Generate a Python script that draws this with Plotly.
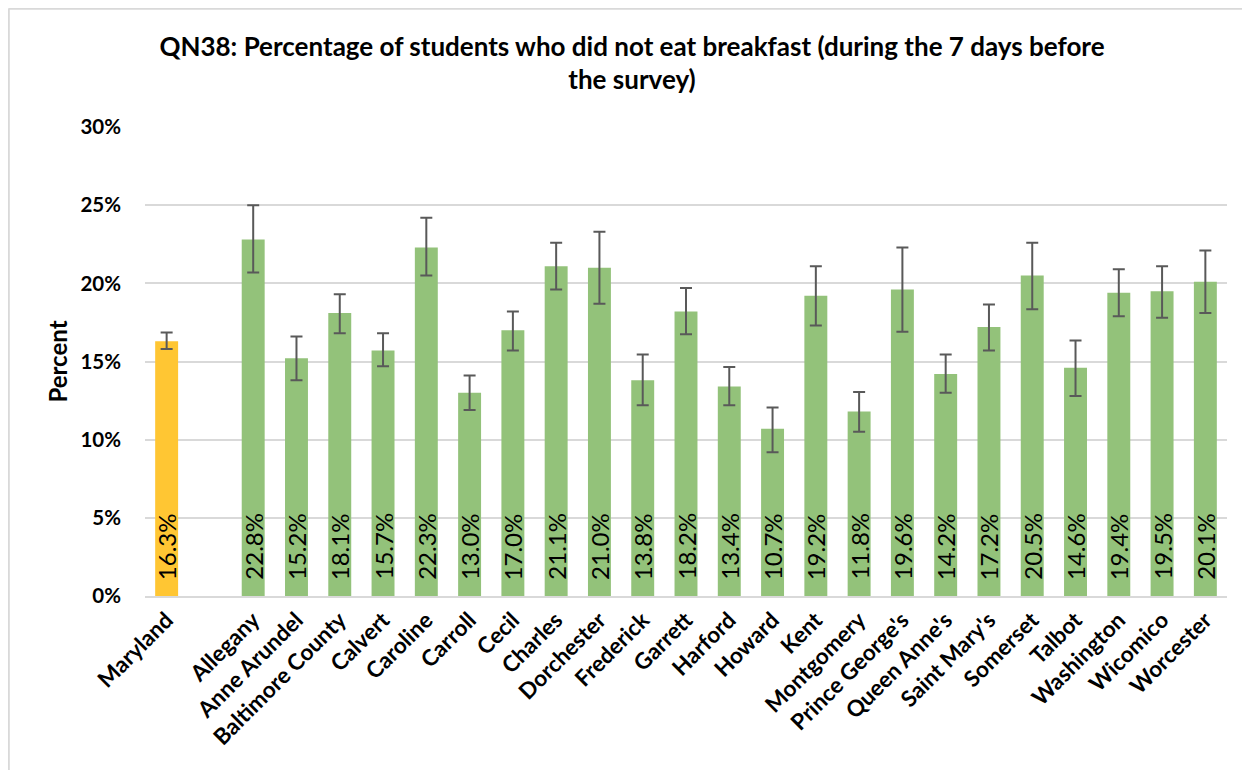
import plotly.graph_objects as go

# ---- data ----
state_name = "Maryland"
state_value = 16.3
state_lower = 15.8
state_upper = 16.85

counties = ["Allegany", "Anne Arundel", "Baltimore County", "Calvert", "Caroline",
            "Carroll", "Cecil", "Charles", "Dorchester", "Frederick", "Garrett",
            "Harford", "Howard", "Kent", "Montgomery", "Prince George's",
            "Queen Anne's", "Saint Mary's", "Somerset", "Talbot", "Washington",
            "Wicomico", "Worcester"]
county_values = [22.8, 15.2, 18.1, 15.7, 22.3, 13.0, 17.0, 21.1, 21.0, 13.8, 18.2,
                 13.4, 10.7, 19.2, 11.8, 19.6, 14.2, 17.2, 20.5, 14.6, 19.4, 19.5, 20.1]
county_lower = [20.7, 13.8, 16.8, 14.7, 20.5, 11.9, 15.7, 19.6, 18.7, 12.2, 16.75,
                12.2, 9.2, 17.3, 10.5, 16.9, 13.0, 15.7, 18.35, 12.8, 17.9, 17.8, 18.1]
county_upper = [25.0, 16.6, 19.3, 16.8, 24.2, 14.1, 18.2, 22.6, 23.3, 15.45, 19.7,
                14.65, 12.05, 21.1, 13.05, 22.3, 15.45, 18.65, 22.6, 16.35, 20.9, 21.1, 22.1]

y_tick_vals = [0, 5, 10, 15, 20, 25, 30]
y_tick_text = ["0%", "5%", "10%", "15%", "20%", "25%", "30%"]

title_text = "QN38: Percentage of students who did not eat breakfast (during the 7 days before<br>the survey)"

# ---- build ----
blank = " "
categories = [state_name, blank] + counties
values = [state_value] + county_values
lowers = [state_lower] + county_lower
uppers = [state_upper] + county_upper
x_cats = [state_name] + counties

GOLD = "#FFC633"
GREEN = "#93C27A"
colors = [GOLD] + [GREEN] * len(counties)

err_plus = [u - v for u, v in zip(uppers, values)]
err_minus = [v - l for v, l in zip(values, lowers)]
labels = [f"{v:.1f}%" for v in values]

FONT = "Lato"

# page has an 8px body margin; figure coordinates are page coordinates minus 8
OFF = 8
W, H = 1250 - OFF, 770 - OFF
L, R, T, B = 145 - OFF, 23, 127 - OFF, 174
pw = W - L - R
ph = H - T - B


def px_x(p):  # page pixel -> paper
    return (p - OFF - L) / pw


def px_y(p):
    return (H - B - (p - OFF)) / ph


fig = go.Figure()
fig.add_trace(go.Bar(
    x=x_cats, y=values,
    marker=dict(color=colors, line=dict(width=0)),
    error_y=dict(type="data", symmetric=False, array=err_plus, arrayminus=err_minus,
                 color="#595959", thickness=2, width=6),
    hoverinfo="x+y",
))

for cat, lab in zip(x_cats, labels):
    fig.add_annotation(x=cat, y=0, xref="x", yref="y", text=lab, showarrow=False,
                       textangle=-90, yanchor="bottom", xanchor="center", yshift=14,
                       font=dict(family=FONT, size=24, color="#000000"))

fig.update_layout(
    width=W, height=H,
    margin=dict(l=L, r=R, t=T, b=B),
    paper_bgcolor="white", plot_bgcolor="white",
    showlegend=False,
    bargap=0.47,
    title=dict(text=title_text, xref="container", x=(632 - OFF) / W, xanchor="center",
               y=1 - (55.5 - OFF) / H, yanchor="middle",
               font=dict(family=FONT, size=26, color="#000000", weight="bold")),
    font=dict(family=FONT, color="#000000"),
    xaxis=dict(type="category", categoryorder="array", categoryarray=categories,
               tickangle=-45, tickfont=dict(family=FONT, size=22.5, weight="bold"),
               showgrid=False, showline=True, linecolor="#D9D9D9", linewidth=2,
               ticks="", ticklen=0),
    yaxis=dict(range=[0, 30], tickvals=y_tick_vals, ticktext=y_tick_text,
               tickfont=dict(family=FONT, size=20.5, weight="bold"),
               showgrid=True, gridcolor="#D9D9D9", gridwidth=2,
               zeroline=False, showline=False, ticks="", ticklabelstandoff=23,
               title=dict(text="Percent", standoff=6,
                          font=dict(family=FONT, size=24, weight="bold"))),
    shapes=[
        dict(type="line", xref="paper", yref="paper",
             x0=px_x(8.5), x1=px_x(1250), y0=px_y(8.8), y1=px_y(8.8),
             line=dict(color="#D9D9D9", width=2), layer="below"),
        dict(type="line", xref="paper", yref="paper",
             x0=px_x(8.8), x1=px_x(8.8), y0=px_y(8.5), y1=px_y(770),
             line=dict(color="#D9D9D9", width=2), layer="below"),
    ],
)

fig.write_html("out.html")
